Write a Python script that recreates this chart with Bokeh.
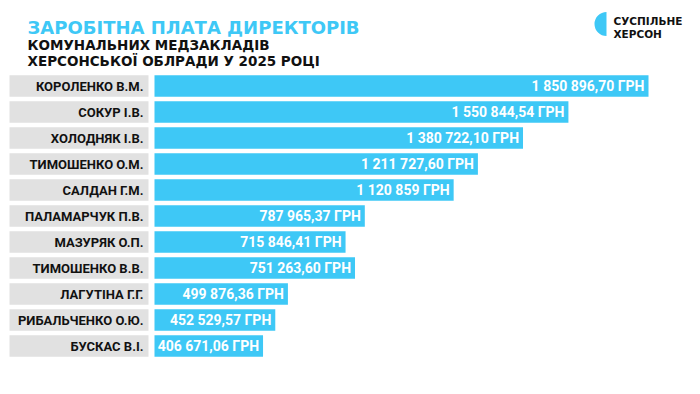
from bokeh.plotting import figure
from bokeh.models import Range1d, ColumnDataSource
from bokeh.core.properties import value
from bokeh.embed import file_html
from bokeh.resources import INLINE

# ---- data ----
names = ["КОРОЛЕНКО В.М.", "СОКУР І.В.", "ХОЛОДНЯК І.В.", "ТИМОШЕНКО О.М.", "САЛДАН Г.М.",
         "ПАЛАМАРЧУК П.В.", "МАЗУРЯК О.П.", "ТИМОШЕНКО В.В.", "ЛАГУТІНА Г.Г.",
         "РИБАЛЬЧЕНКО О.Ю.", "БУСКАС В.І."]
salaries = [1850896.70, 1550844.54, 1380722.10, 1211727.60, 1120859.00,
            787965.37, 715846.41, 751263.60, 499876.36, 452529.57, 406671.06]
salary_labels = ["1 850 896,70 ГРН", "1 550 844,54 ГРН", "1 380 722,10 ГРН", "1 211 727,60 ГРН",
                 "1 120 859 ГРН", "787 965,37 ГРН", "715 846,41 ГРН", "751 263,60 ГРН",
                 "499 876,36 ГРН", "452 529,57 ГРН", "406 671,06 ГРН"]
title_line = "ЗАРОБІТНА ПЛАТА ДИРЕКТОРІВ"
subtitle_lines = ["КОМУНАЛЬНИХ МЕДЗАКЛАДІВ", "ХЕРСОНСЬКОЇ ОБЛРАДИ У 2025 РОЦІ"]
logo_lines = ["СУСПІЛЬНЕ", "ХЕРСОН"]

# ---- layout constants (pixels inside the figure) ----
W, H = 684, 378
BAR_X0 = 154          # pixel where value 0 sits
BAR_MAX_PX = 494      # pixel length of the largest bar
ROW0_Y = 85.5
ROW_STEP = 26.0
BLUE = "#3ec8f6"
GRAY = "#e1e1e1"

scale = BAR_MAX_PX / max(salaries)
x_range = Range1d(-BAR_X0 / scale, (W - BAR_X0) / scale)
y_range = Range1d((H - ROW0_Y) / ROW_STEP, -ROW0_Y / ROW_STEP)

p = figure(width=W, height=H, x_range=x_range, y_range=y_range,
           output_backend="svg", toolbar_location=None, min_border=0,
           background_fill_color="white", border_fill_color="white")
p.outline_line_color = None
p.axis.visible = False
p.grid.visible = False
p.extra_x_ranges = {"px": Range1d(0, W)}
p.extra_y_ranges = {"px": Range1d(H, 0)}

rows = list(range(len(names)))
src = ColumnDataSource(dict(y=rows, name=names, val=salaries, lab=salary_labels))

# gray name boxes
p.hbar(y="y", left=9, right=148, height=0.82, source=src, fill_color=GRAY,
       line_color=None, x_range_name="px")
# bars
p.hbar(y="y", left=0, right="val", height=0.82, source=src, fill_color=BLUE, line_color=None)

# name labels
p.text(x=143, y="y", text="name", source=src, x_range_name="px",
       text_align="right", text_baseline="middle", text_font=value("Roboto"),
       text_font_style="bold", text_font_size="13px", text_color="#111111")
# value labels
p.text(x="val", y="y", text="lab", source=src, x_offset=-4,
       text_align="right", text_baseline="middle", text_font=value("Roboto"),
       text_font_style="bold", text_font_size="14px", text_color="white")

# title block
p.text(x=[27], y=[26.7], text=[title_line], x_range_name="px", y_range_name="px",
       text_align="left", text_baseline="alphabetic", text_font=value("DejaVu Sans"),
       text_font_style="bold", text_font_size="18px", text_color=BLUE)
p.text(x=[27, 27], y=[44.3, 60.7], text=subtitle_lines, x_range_name="px", y_range_name="px",
       text_align="left", text_baseline="alphabetic", text_font=value("DejaVu Sans"),
       text_font_style="bold", text_font_size="13.5px", text_color="#111111")

# logo
p.wedge(x=[606], y=[23.5], radius=12, radius_units="screen",
        start_angle=1.5708, end_angle=4.7124, fill_color=BLUE, line_color=None,
        x_range_name="px", y_range_name="px")
p.text(x=[613, 613], y=[20.7, 33], text=logo_lines, x_range_name="px", y_range_name="px",
       text_align="left", text_baseline="alphabetic", text_font=value("DejaVu Sans"),
       text_font_style="bold", text_font_size="10.5px", text_color="#111111")

open("out.html", "w").write(file_html(p, INLINE))
